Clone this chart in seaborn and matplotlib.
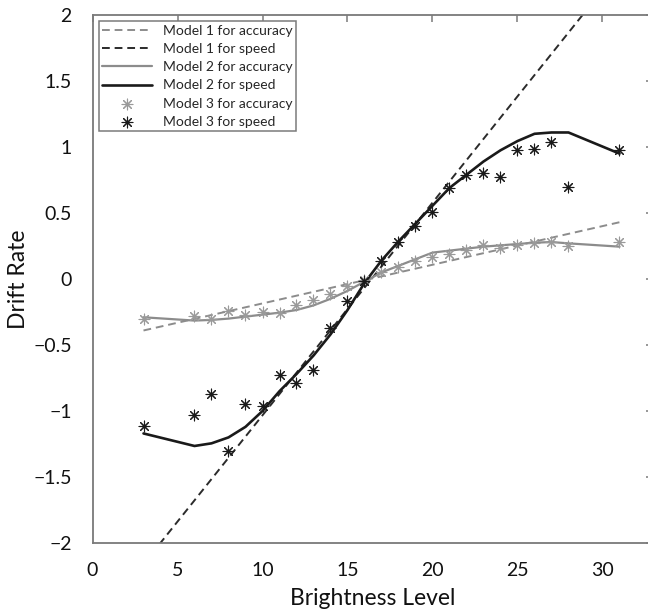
import numpy as np
import pandas as pd
import matplotlib
matplotlib.use("Agg")
import matplotlib.pyplot as plt
import seaborn as sns

# ---- data ----
levels = [3, 6, 7, 8, 9, 10, 11, 12, 13, 14, 15, 16, 17, 18, 19, 20, 21, 22,
          23, 24, 25, 26, 27, 28, 31]

m3_acc = [-0.30, -0.28, -0.30, -0.24, -0.27, -0.25, -0.255, -0.20, -0.16, -0.11,
          -0.05, -0.01, 0.055, 0.09, 0.135, 0.17, 0.19, 0.22, 0.255, 0.235,
          0.26, 0.27, 0.28, 0.25, 0.28]
m3_spd = [-1.11, -1.03, -0.87, -1.30, -0.95, -0.96, -0.73, -0.79, -0.69, -0.37,
          -0.17, -0.015, 0.14, 0.28, 0.40, 0.51, 0.69, 0.79, 0.80, 0.775,
          0.98, 0.985, 1.04, 0.70, 0.98]

m2_acc = [-0.29, -0.315, -0.31, -0.30, -0.285, -0.27, -0.255, -0.235, -0.20, -0.15,
          -0.09, -0.02, 0.05, 0.10, 0.15, 0.20, 0.215, 0.23, 0.245, 0.255,
          0.265, 0.275, 0.28, 0.27, 0.245]
m2_spd = [-1.17, -1.265, -1.245, -1.20, -1.12, -1.00, -0.85, -0.72, -0.58, -0.42,
          -0.235, -0.03, 0.14, 0.285, 0.42, 0.555, 0.69, 0.79, 0.89, 0.975,
          1.045, 1.10, 1.11, 1.11, 0.95]

m1_x = [3, 31]
m1_acc = [-0.39, 0.43]
m1_spd = [-2.16, 2.35]

xticks = [0, 5, 10, 15, 20, 25, 30]
yticks = [-2, -1.5, -1, -0.5, 0, 0.5, 1, 1.5, 2]
ytick_labels = ["\u22122", "\u22121.5", "\u22121", "\u22120.5", "0", "0.5", "1", "1.5", "2"]

# ---- style ----
sns.set_theme(style="white")
plt.rcParams["font.family"] = ["Lato", "DejaVu Sans"]
plt.rcParams["axes.unicode_minus"] = True

fig = plt.figure(figsize=(6.48, 6.11), dpi=100)
ax = fig.add_axes([92.5 / 648, 68 / 611, 561 / 648, 528 / 611])

grey = "#8c8c8c"
dark = "#1a1a1a"

sns.lineplot(x=m1_x, y=m1_acc, ax=ax, color=grey, lw=1.4, linestyle=(0, (4, 2.5)),
             label="Model 1 for accuracy")
sns.lineplot(x=m1_x, y=m1_spd, ax=ax, color="#2b2b2b", lw=1.4, linestyle=(0, (4, 2.5)),
             label="Model 1 for speed")
sns.lineplot(x=levels, y=m2_acc, ax=ax, color=grey, lw=1.6, label="Model 2 for accuracy")
sns.lineplot(x=levels, y=m2_spd, ax=ax, color=dark, lw=1.9, label="Model 2 for speed")

star = (8, 2, 0)
sns.scatterplot(x=levels, y=m3_acc, ax=ax, marker=star, s=60, color="#9a9a9a",
                linewidth=0.8, edgecolor="#9a9a9a", label="Model 3 for accuracy", zorder=3)
sns.scatterplot(x=levels, y=m3_spd, ax=ax, marker=star, s=60, color=dark,
                linewidth=0.8, edgecolor="#333333", label="Model 3 for speed", zorder=3)

ax.set_xlim(0, 33)
ax.set_ylim(-2, 2)
ax.set_xticks(xticks)
ax.set_xticklabels([str(t) for t in xticks])
ax.set_yticks(yticks)
ax.set_yticklabels(ytick_labels)

spine_col = "#7a7a7a"
for s in ax.spines.values():
    s.set_color(spine_col)
    s.set_linewidth(1.3)
    s.set_visible(True)
ax.tick_params(direction="in", length=5, width=1.1, color=spine_col,
               top=True, right=True, labelsize=14, labelcolor="#111111", pad=14)
ax.tick_params(axis="y", pad=15)

ax.set_xlabel("Brightness Level", fontsize=16.5, color="#111111", labelpad=6)
ax.set_ylabel("Drift Rate", fontsize=16.5, color="#111111", labelpad=3)

leg = ax.legend(loc="upper left", fontsize=10, frameon=True, fancybox=False,
                edgecolor=spine_col, framealpha=1, borderpad=0.25, labelspacing=0.45,
                handlelength=3.6, handletextpad=0.8, borderaxespad=0.45)
leg.get_frame().set_linewidth(1.1)

fig.savefig("out.png", dpi=100)
